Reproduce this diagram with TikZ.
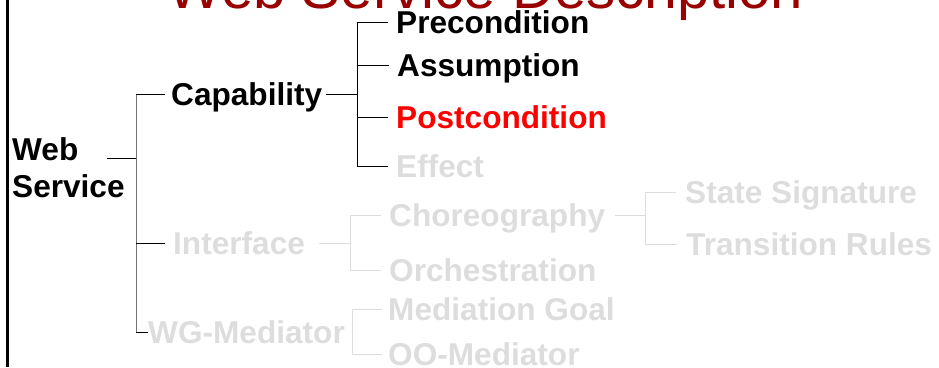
\documentclass[tikz,border=0pt]{standalone}
\usepackage{fontspec}
\setmainfont{Liberation Sans}
\usepackage{xcolor}
\usetikzlibrary{calc}
\definecolor{titlered}{HTML}{990000}
\definecolor{faded}{HTML}{DDDDDD}
\begin{document}
\begin{tikzpicture}[x=1pt,y=-1pt]
        \tikzstyle{item}=[anchor=west,inner sep=0pt,text height=22pt,text depth=0pt,
        font=\fontsize{31.6}{37}\selectfont\bfseries]
        \tikzstyle{dim}=[item,text=faded]
        \tikzstyle{link}=[line width=1pt,black]
        \tikzstyle{dimlink}=[line width=1pt,faded]
        \useasboundingbox (0,0) rectangle (939,367);
        \clip (0,0) rectangle (939,367);
        \node at (167,8) [anchor=base west,inner sep=0pt,text=titlered,
        font=\fontsize{58.2}{70}\selectfont] (title) {Web Service Description};
        \draw[line width=2.5pt] (7.5,0) -- (7.5,367);
        \node at (12,197) [anchor=base west,inner sep=0pt,align=left,
        font=\fontsize{31.6}{37}\selectfont\bfseries] (websvc) {Web\\Service};
        \node at (171,94) [item] (capab) {Capability};
        \node at (396,22) [item] (precond) {Precondition};
        \node at (397,65) [item] (assump) {Assumption};
        \node at (396,117) [item,text=red] (postcond) {Postcondition};
        \node at (396,166) [dim] (effect) {Effect};
        \node at (173,243) [dim] (interf) {Interface};
        \node at (148,332) [dim] (wgmed) {WG-Mediator};
        \node at (389,215) [dim] (choreo) {Choreography};
        \node at (389,270) [dim] (orchest) {Orchestration};
        \node at (388,309) [dim] (medgoal) {Mediation Goal};
        \node at (388,354) [dim] (oomed) {OO-Mediator};
        \node at (685,192) [dim] (statesig) {State Signature};
        \node at (686,244) [dim] (transrul) {Transition Rules};
        \coordinate (wsout) at (107,158);
        \coordinate (wsjoin) at (136,158);
        \coordinate (capjoin) at (357,94);
        \coordinate (interfjoin) at (350,243);
        \coordinate (chojoin) at (645,215);
        \coordinate (wgjoin) at ([xshift=7pt]wgmed.east);
        % capability side
        \draw[link] (wsout) -- (wsjoin);
        \draw[line width=1pt,black!55] (wsjoin |- capab.west) -- (wsjoin |- wgmed.west);
        \draw[link] (wsjoin |- capab.west) -- ([xshift=-6pt]capab.west);
        \draw[link] (wsjoin |- interf.west) -- ([xshift=-8pt]interf.west);
        \draw[link] (wsjoin |- wgmed.west) -- (wgmed.west);
        \draw[link] ([xshift=4pt]capab.east) -- (capjoin);
        \draw[link] (capjoin |- precond.west) -- (capjoin |- effect.west);
        \foreach \n in {precond,assump,postcond,effect}
          \draw[link] (capjoin |- \n.west) -- ([xshift=-8pt]\n.west);
        % interface and mediator side
        \draw[dimlink] ([xshift=14pt]interf.east) -- (interfjoin);
        \draw[dimlink] (interfjoin |- choreo.west) -- (interfjoin |- orchest.west);
        \foreach \n in {choreo,orchest}
          \draw[dimlink] (interfjoin |- \n.west) -- ([xshift=-8pt]\n.west);
        \draw[dimlink] ([xshift=10pt]choreo.east) -- (chojoin);
        \draw[dimlink] (chojoin |- statesig.west) -- (chojoin |- transrul.west);
        \foreach \n in {statesig,transrul}
          \draw[dimlink] (chojoin |- \n.west) -- ([xshift=-9pt]\n.west);
        \draw[dimlink] (wgjoin |- medgoal.west) -- (wgjoin |- oomed.west);
        \foreach \n in {medgoal,oomed}
          \draw[dimlink] (wgjoin |- \n.west) -- ([xshift=-6pt]\n.west);
      \end{tikzpicture}
\end{document}
